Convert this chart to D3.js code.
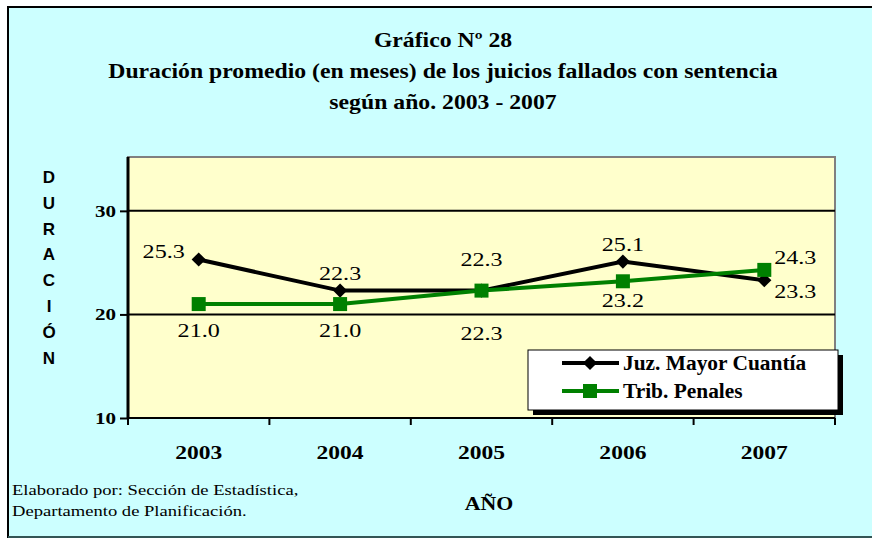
<!DOCTYPE html>
<html>
<head>
<meta charset="utf-8">
<script src="https://cdn.jsdelivr.net/npm/d3@7"></script>
<style>
  body { margin: 0; background: #fff; }
  svg { display: block; }
</style>
</head>
<body>
<svg id="chart" width="872" height="538"></svg>
<script>
// data
var years = ["2003", "2004", "2005", "2006", "2007"];
var juzMayor = [25.3, 22.3, 22.3, 25.1, 23.3];
var tribPenales = [21.0, 21.0, 22.3, 23.2, 24.3];
var yTicks = [10, 20, 30];
var seriesNames = ["Juz. Mayor Cuantía", "Trib. Penales"];
var titleLines = ["Gráfico Nº 28",
    "Duración promedio (en meses) de los juicios fallados con sentencia",
    "según año. 2003 - 2007"];
var yLabel = "DURACIÓN";
var xLabel = "AÑO";
var footer = ["Elaborado por: Sección de Estadística,", "Departamento de Planificación."];

var svg = d3.select("#chart");
var serif = "'Liberation Serif', 'Times New Roman', serif";

// the original picture is stretched sideways, so text gets an x-scale
function stretchText(parent, px, py, str, size, sx, bold, anchor, family) {
    var g = parent.append("g")
        .attr("transform", "translate(" + px + "," + py + ") scale(" + sx + ",1)");
    return g.append("text")
        .attr("text-anchor", anchor || "middle")
        .attr("font-family", family || serif)
        .attr("font-weight", bold ? "bold" : "normal")
        .attr("font-size", size + "px")
        .text(str);
}

// outer frame
svg.append("rect")
    .attr("x", 8).attr("y", 7)
    .attr("width", 880).attr("height", 530)
    .attr("fill", "#ccffff")
    .attr("stroke", "#000").attr("stroke-width", 2);
svg.append("line")
    .attr("x1", 8).attr("x2", 872).attr("y1", 537).attr("y2", 537)
    .attr("stroke", "#335555").attr("stroke-width", 2);

// title
titleLines.forEach(function (t, i) {
    stretchText(svg, 443, 47 + i * 31, t, 21, 1.13, true);
});

var plot = { left: 128, right: 835, top: 157, bottom: 418 };

var x = d3.scaleBand().domain(years).range([plot.left, plot.right]);
var y = d3.scaleLinear().domain([10, 35.2]).range([plot.bottom, plot.top]);

// plot area
svg.append("rect")
    .attr("x", plot.left).attr("y", plot.top)
    .attr("width", plot.right - plot.left).attr("height", plot.bottom - plot.top)
    .attr("fill", "#ffffcc")
    .attr("stroke", "#808080").attr("stroke-width", 2);

// gridlines
svg.selectAll(".grid").data(yTicks.slice(1)).enter()
    .append("line")
    .attr("x1", plot.left).attr("x2", plot.right)
    .attr("y1", function (d) { return y(d); })
    .attr("y2", function (d) { return y(d); })
    .attr("stroke", "#000").attr("stroke-width", 2);

// y axis
var yAxis = d3.axisLeft(y).tickValues(yTicks).tickSize(8).tickFormat("");
var gy = svg.append("g").attr("transform", "translate(" + plot.left + ",0)").call(yAxis);
gy.select(".domain").attr("stroke-width", 3).attr("d", "M0," + plot.top + "V" + plot.bottom);
gy.selectAll(".tick line").attr("stroke-width", 2);
yTicks.forEach(function (t) {
    stretchText(svg, 116, y(t) + 6, String(t), 17, 1.24, true, "end");
});

// x axis
var xAxis = d3.axisBottom(x).tickSize(0).tickFormat("");
var gx = svg.append("g").attr("transform", "translate(0," + plot.bottom + ")").call(xAxis);
gx.select(".domain").attr("stroke-width", 2).attr("d", "M" + plot.left + ",0H" + plot.right);
var bounds = years.map(function (d) { return x(d); }).concat([plot.right]);
gx.selectAll(".sep").data(bounds).enter()
    .append("line")
    .attr("x1", function (d) { return d; }).attr("x2", function (d) { return d; })
    .attr("y1", 0).attr("y2", 7)
    .attr("stroke", "#000").attr("stroke-width", 2);
years.forEach(function (yr) {
    stretchText(svg, x(yr) + x.bandwidth() / 2, 459, yr, 19, 1.24, true);
});

// axis titles
yLabel.split("").forEach(function (c, i) {
    stretchText(svg, 49, 183 + i * 25.8, c, 17, 1.0, true, "middle",
        "'Liberation Sans', Arial, sans-serif");
});

stretchText(svg, 489, 510, xLabel, 19, 1.15, true);

footer.forEach(function (t, i) {
    stretchText(svg, 12, 495 + i * 21, t, 15, 1.24, false, "start");
});

// lines
var cx = function (d, i) { return x(years[i]) + x.bandwidth() / 2; };
var line = d3.line().x(cx).y(function (d) { return y(d); });

svg.append("path").datum(juzMayor)
    .attr("d", line).attr("fill", "none")
    .attr("stroke", "#000").attr("stroke-width", 4);
svg.append("path").datum(tribPenales)
    .attr("d", line).attr("fill", "none")
    .attr("stroke", "#008000").attr("stroke-width", 4);

var diamond = d3.symbol().type(d3.symbolSquare).size(100);
svg.selectAll(".dia").data(juzMayor).enter()
    .append("path")
    .attr("d", diamond)
    .attr("transform", function (d, i) { return "translate(" + cx(d, i) + "," + y(d) + ") rotate(45)"; })
    .attr("fill", "#000");

svg.selectAll(".sq").data(tribPenales).enter()
    .append("rect")
    .attr("x", function (d, i) { return cx(d, i) - 7; })
    .attr("y", function (d) { return y(d) - 7; })
    .attr("width", 14).attr("height", 14)
    .attr("fill", "#008000");

// data labels: offsets from the point
var juzOff = [[-35, -2], [0, -11], [0, -25], [0, -11], [31, 18]];
var tribOff = [[0, 33], [0, 33], [0, 49], [0, 26], [31, -6]];

function labels(vals, offs) {
    vals.forEach(function (d, i) {
        stretchText(svg, cx(d, i) + offs[i][0], y(d) + offs[i][1],
            d3.format(".1f")(d), 19, 1.27, false);
    });
}
labels(juzMayor, juzOff);
labels(tribPenales, tribOff);

// legend
var lg = svg.append("g");
lg.append("rect").attr("x", 533).attr("y", 355).attr("width", 310).attr("height", 60).attr("fill", "#000");
lg.append("rect").attr("x", 528).attr("y", 350).attr("width", 310).attr("height", 60)
    .attr("fill", "#fff").attr("stroke", "#000").attr("stroke-width", 1);
var colors = ["#000", "#008000"];
seriesNames.forEach(function (name, i) {
    var ly = 363 + i * 28;
    lg.append("line").attr("x1", 562).attr("x2", 619).attr("y1", ly).attr("y2", ly)
        .attr("stroke", colors[i]).attr("stroke-width", 4);
    if (i === 0) {
        lg.append("path").attr("d", diamond)
            .attr("transform", "translate(590," + ly + ") rotate(45)").attr("fill", "#000");
    } else {
        lg.append("rect").attr("x", 583).attr("y", ly - 7).attr("width", 14).attr("height", 14)
            .attr("fill", "#008000");
    }
    stretchText(lg, 623, ly + 7, name, 20, 1.07, true, "start");
});
</script>
</body>
</html>
